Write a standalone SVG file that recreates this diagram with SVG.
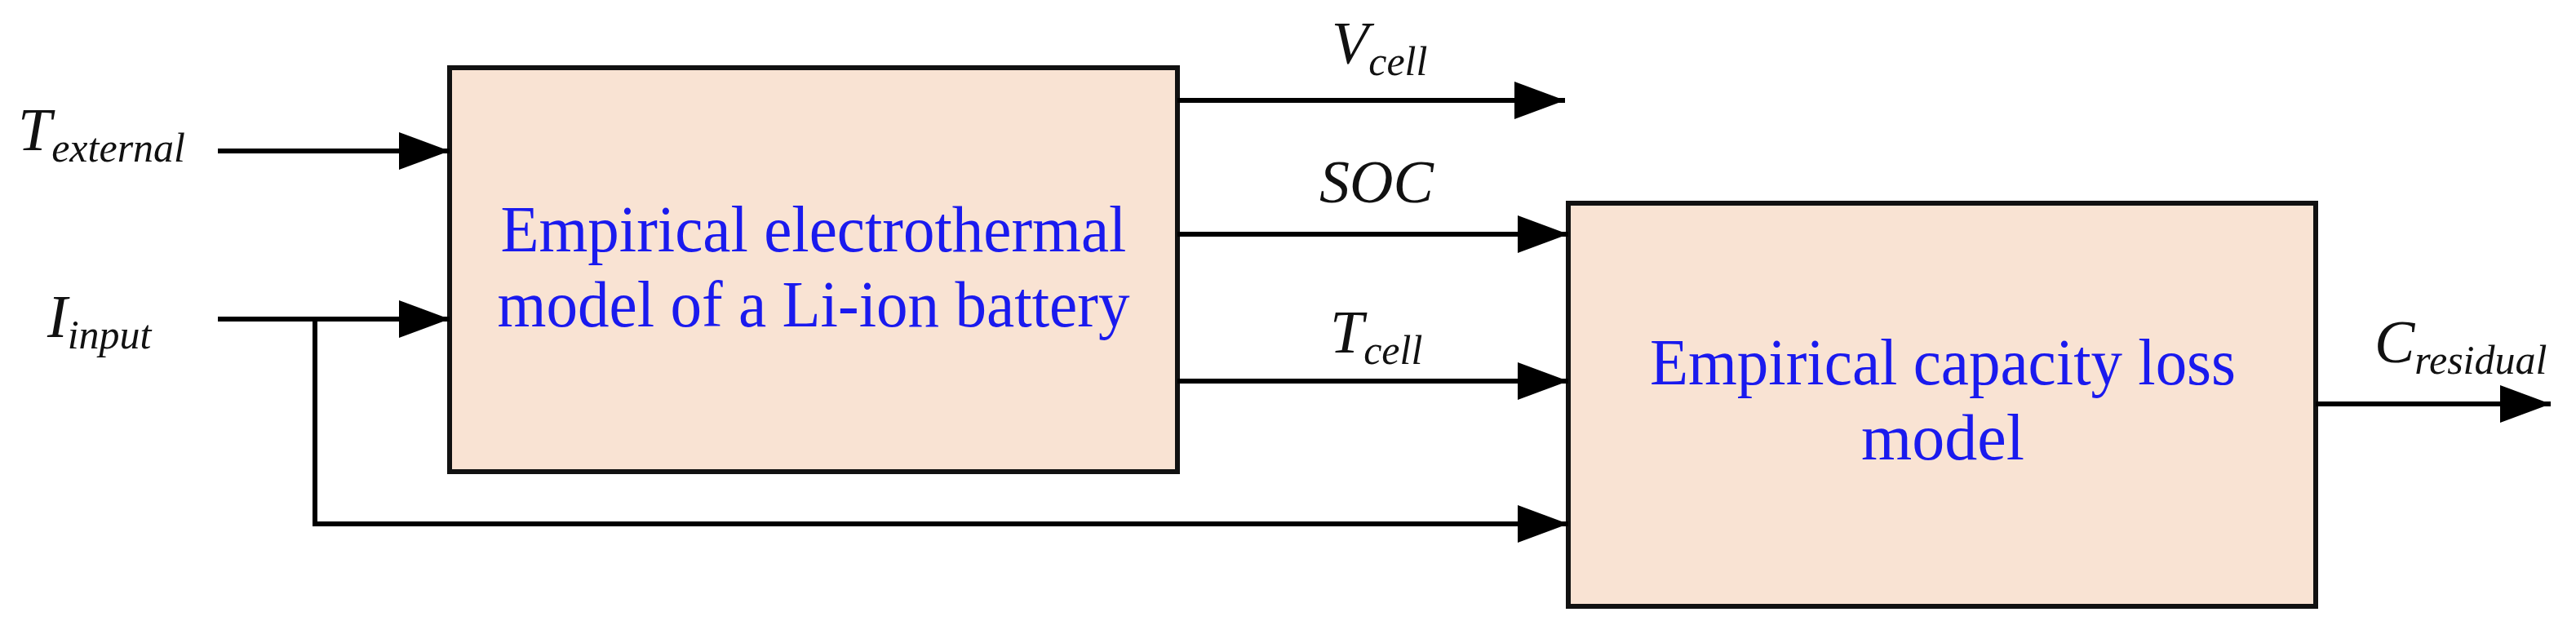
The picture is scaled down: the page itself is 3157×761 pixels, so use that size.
<svg xmlns="http://www.w3.org/2000/svg" width="3157" height="761" viewBox="0 0 3157 761">
<style>
.box{fill:#f9e3d3;stroke:#111;stroke-width:6}
.ln{fill:none;stroke:#000;stroke-width:6}
.bt{font-family:"Liberation Serif",serif;font-size:80px;fill:#1a1aee;text-anchor:middle}
.lb{font-family:"Liberation Serif",serif;font-style:italic;font-size:74px;fill:#111}
.sb{font-size:50px}
</style>
<defs><marker id="a" markerUnits="userSpaceOnUse" markerWidth="64" markerHeight="46" refX="62" refY="23" orient="auto"><path d="M0,0L62,23L0,46z" fill="#000"/></marker></defs>
<g id="n1"><rect class="box" x="551" y="83" width="892" height="495"/>
<text class="bt" x="997" y="308" textLength="767" lengthAdjust="spacingAndGlyphs">Empirical electrothermal</text>
<text class="bt" x="997" y="400" textLength="775" lengthAdjust="spacingAndGlyphs">model of a Li-ion battery</text></g>
<g id="n2"><rect class="box" x="1922" y="249" width="916" height="494"/>
<text class="bt" x="2381" y="471" textLength="718" lengthAdjust="spacingAndGlyphs">Empirical capacity loss</text>
<text class="bt" x="2381" y="563">model</text></g>
<g id="labels">
<text class="lb" x="22" y="184">T<tspan class="sb" dy="14">external</tspan></text>
<text class="lb" x="58" y="413">I<tspan class="sb" dy="14">input</tspan></text>
<text class="lb" x="1632" y="78">V<tspan class="sb" dy="14">cell</tspan></text>
<text class="lb" x="1617" y="248">SOC</text>
<text class="lb" x="1630" y="432">T<tspan class="sb" dy="14">cell</tspan></text>
<text class="lb" x="2910" y="444">C<tspan class="sb" dy="14">residual</tspan></text>
</g>
<g id="connectors">
<path class="ln" d="M267,185H551" marker-end="url(#a)"/>
<path class="ln" d="M267,391H551" marker-end="url(#a)"/>
<path class="ln" d="M386,391V642H1922" marker-end="url(#a)"/>
<path class="ln" d="M1443,123H1918" marker-end="url(#a)"/>
<path class="ln" d="M1443,287H1922" marker-end="url(#a)"/>
<path class="ln" d="M1443,467H1922" marker-end="url(#a)"/>
<path class="ln" d="M2838,495H3126" marker-end="url(#a)"/>
</g>
</svg>
